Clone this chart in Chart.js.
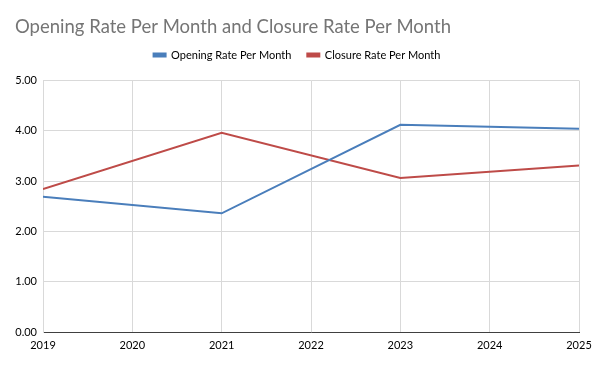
<!DOCTYPE html>
<html>
<head>
<meta charset="utf-8">
<script src="https://cdn.jsdelivr.net/npm/chart.js@4/dist/chart.umd.min.js"></script>
<style>
  html, body { margin: 0; padding: 0; background: #fff; }
  #wrap { width: 595px; height: 367px; position: relative; }
</style>
</head>
<body>
<div id="wrap"><canvas id="rateChart"></canvas></div>
<script>
// ----------------------------------------------------------------------
// data
// ----------------------------------------------------------------------
const YEARS = [2019, 2021, 2023, 2025];
const OPENING_RATE = [2.69, 2.36, 4.12, 4.04];
const CLOSURE_RATE = [2.84, 3.96, 3.06, 3.31];
const Y_TICKS = [0, 1, 2, 3, 4, 5];

const COLORS = { opening: '#4a7ebb', closure: '#be4b48' };
const FONT = 'Lato, "Open Sans", sans-serif';
const LEGEND_EXTRA = 10;   // extra gap under the legend

function toPoints(xs, ys) {
  return xs.map((x, i) => ({ x: x, y: ys[i] }));
}

// stretch legend box so plot area starts lower
const legendGap = {
  id: 'legendGap',
  beforeInit(chart) {
    const lg = chart.legend;
    if (!lg) return;
    const fit = lg.fit;
    lg.fit = function () {
      fit.call(this);
      this.height += LEGEND_EXTRA;
    };
  }
};

const ctx = document.getElementById('rateChart').getContext('2d');

new Chart(ctx, {
  type: 'line',
  data: {
    datasets: [
      {
        label: 'Opening Rate Per Month',
        data: toPoints(YEARS, OPENING_RATE),
        borderColor: COLORS.opening,
        backgroundColor: COLORS.opening,
        borderWidth: 2,
        pointRadius: 0,
        tension: 0
      },
      {
        label: 'Closure Rate Per Month',
        data: toPoints(YEARS, CLOSURE_RATE),
        borderColor: COLORS.closure,
        backgroundColor: COLORS.closure,
        borderWidth: 2,
        pointRadius: 0,
        tension: 0
      }
    ]
  },
  plugins: [legendGap],
  options: {
    responsive: true,
    maintainAspectRatio: false,
    animation: false,
    layout: { padding: { left: 15, right: 16, top: 0, bottom: 0 } },
    scales: {
      x: {
        type: 'linear',
        min: 2019,
        max: 2025,
        ticks: {
          stepSize: 1,
          color: '#000',
          padding: 7,
          maxRotation: 0,
          font: { family: FONT, size: 11 },
          callback: v => String(v)
        },
        grid: { color: '#d9d9d9', lineWidth: 1, drawTicks: false },
        border: { color: '#404040', width: 1 },
        afterFit: s => {
          s.height = 35;
          s.paddingLeft = 0;
          s.paddingRight = 0;
        }
      },
      y: {
        min: 0,
        max: 5,
        afterBuildTicks: s => { s.ticks = Y_TICKS.map(v => ({ value: v })); },
        ticks: {
          color: '#000',
          padding: 6,
          font: { family: FONT, size: 11 },
          callback: v => Number(v).toFixed(2)
        },
        grid: { color: '#d9d9d9', lineWidth: 1, drawTicks: false },
        border: { color: '#d9d9d9', width: 1 },
        afterFit: s => { s.width = 28; }
      }
    },
    plugins: {
      title: {
        display: true,
        text: 'Opening Rate Per Month and Closure Rate Per Month',
        align: 'start',
        color: '#757575',
        font: { family: FONT, size: 18.5, weight: 'normal' },
        padding: { top: 15.7, bottom: -4.4 }
      },
      legend: {
        position: 'top',
        labels: {
          color: '#000',
          font: { family: FONT, size: 11 },
          boxWidth: 12,
          boxHeight: 3,
          padding: 16
        }
      },
      tooltip: { enabled: false }
    }
  }
});
</script>
</body>
</html>
